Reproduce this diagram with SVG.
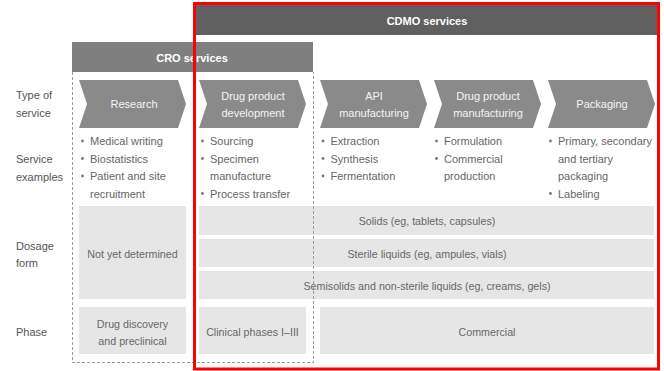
<svg xmlns="http://www.w3.org/2000/svg" width="664" height="371" viewBox="0 0 664 371">
  <style>
    text { font-family: "Liberation Sans", Arial, Helvetica, sans-serif; font-size: 11px; }
    .hdr { fill: #ffffff; font-weight: bold; text-anchor: middle; }
    .chev { fill: #8a8a8a; }
    .chevtxt { fill: #f4f4f4; text-anchor: middle; }
    .rowlbl { fill: #555555; }
    .item { fill: #666666; }
    .dot { fill: #777777; }
    .cell { fill: #e6e6e6; }
    .celltxt { fill: #666666; text-anchor: middle; font-size: 10.7px; }
    .dash { fill: none; stroke: #9a9a9a; stroke-width: 1; stroke-dasharray: 3 2; }
  </style>

  <rect width="664" height="371" fill="#ffffff"/>

  <!-- Section headers -->
  <g id="cdmo-header">
    <rect x="193" y="5" width="464" height="30" fill="#606060"/>
    <text class="hdr" x="427" y="25">CDMO services</text>
  </g>
  <g id="cro-header">
    <rect x="72" y="42" width="241" height="30" fill="#7f7f7f"/>
    <text class="hdr" x="192" y="62">CRO services</text>
  </g>

  <!-- Row labels -->
  <g id="row-labels">
    <text class="rowlbl" x="16" y="99">Type of</text>
    <text class="rowlbl" x="16" y="117">service</text>
    <text class="rowlbl" x="16" y="163">Service</text>
    <text class="rowlbl" x="16" y="181">examples</text>
    <text class="rowlbl" x="16" y="250">Dosage</text>
    <text class="rowlbl" x="16" y="267">form</text>
    <text class="rowlbl" x="16" y="336">Phase</text>
  </g>

  <!-- Service chevrons -->
  <g id="research">
    <polygon class="chev" points="79,80 178,80 186,104 178,128 79,128 87,104"/>
    <text class="chevtxt" x="134" y="108">Research</text>
  </g>
  <g id="drug-product-development">
    <polygon class="chev" points="199,80 298,80 306,104 298,128 199,128 207,104"/>
    <text class="chevtxt" x="253" y="100">Drug product</text>
    <text class="chevtxt" x="253" y="117">development</text>
  </g>
  <g id="api-manufacturing">
    <polygon class="chev" points="320,80 419,80 427,104 419,128 320,128 328,104"/>
    <text class="chevtxt" x="374" y="100">API</text>
    <text class="chevtxt" x="374" y="117">manufacturing</text>
  </g>
  <g id="drug-product-manufacturing">
    <polygon class="chev" points="434,80 533,80 541,104 533,128 434,128 442,104"/>
    <text class="chevtxt" x="488" y="100">Drug product</text>
    <text class="chevtxt" x="488" y="117">manufacturing</text>
  </g>
  <g id="packaging">
    <polygon class="chev" points="548,80 647,80 655,104 647,128 548,128 556,104"/>
    <text class="chevtxt" x="602" y="108">Packaging</text>
  </g>

  <!-- Service examples -->
  <g id="examples-research">
    <circle class="dot" cx="82.5" cy="141" r="1.4"/>
    <circle class="dot" cx="82.5" cy="158.5" r="1.4"/>
    <circle class="dot" cx="82.5" cy="176" r="1.4"/>
    <text class="item" x="90" y="145">Medical writing</text>
    <text class="item" x="90" y="162.5">Biostatistics</text>
    <text class="item" x="90" y="180">Patient and site</text>
    <text class="item" x="90" y="197.5">recruitment</text>
  </g>
  <g id="examples-development">
    <circle class="dot" cx="202.5" cy="141" r="1.4"/>
    <circle class="dot" cx="202.5" cy="158.5" r="1.4"/>
    <circle class="dot" cx="202.5" cy="193.5" r="1.4"/>
    <text class="item" x="210" y="145">Sourcing</text>
    <text class="item" x="210" y="162.5">Specimen</text>
    <text class="item" x="210" y="180">manufacture</text>
    <text class="item" x="210" y="197.5">Process transfer</text>
  </g>
  <g id="examples-api">
    <circle class="dot" cx="323" cy="141" r="1.4"/>
    <circle class="dot" cx="323" cy="158.5" r="1.4"/>
    <circle class="dot" cx="323" cy="176" r="1.4"/>
    <text class="item" x="330.5" y="145">Extraction</text>
    <text class="item" x="330.5" y="162.5">Synthesis</text>
    <text class="item" x="330.5" y="180">Fermentation</text>
  </g>
  <g id="examples-manufacturing">
    <circle class="dot" cx="436.5" cy="141" r="1.4"/>
    <circle class="dot" cx="436.5" cy="158.5" r="1.4"/>
    <text class="item" x="444" y="145">Formulation</text>
    <text class="item" x="444" y="162.5">Commercial</text>
    <text class="item" x="444" y="180">production</text>
  </g>
  <g id="examples-packaging">
    <circle class="dot" cx="550.5" cy="141" r="1.4"/>
    <circle class="dot" cx="550.5" cy="193.5" r="1.4"/>
    <text class="item" x="558" y="145">Primary, secondary</text>
    <text class="item" x="558" y="162.5">and tertiary</text>
    <text class="item" x="558" y="180">packaging</text>
    <text class="item" x="558" y="197.5">Labeling</text>
  </g>

  <!-- Dosage form cells -->
  <g id="dosage-undetermined">
    <rect class="cell" x="79" y="206" width="107" height="93"/>
    <text class="celltxt" x="132.5" y="258">Not yet determined</text>
  </g>
  <g id="dosage-solids">
    <rect class="cell" x="199" y="206" width="455" height="29"/>
    <text class="celltxt" x="427" y="225">Solids (eg, tablets, capsules)</text>
  </g>
  <g id="dosage-sterile">
    <rect class="cell" x="199" y="239" width="455" height="28"/>
    <text class="celltxt" x="427" y="257.5">Sterile liquids (eg, ampules, vials)</text>
  </g>
  <g id="dosage-semisolids">
    <rect class="cell" x="199" y="271" width="455" height="28"/>
    <text class="celltxt" x="427" y="289.5">Semisolids and non-sterile liquids (eg, creams, gels)</text>
  </g>

  <!-- Phase cells -->
  <g id="phase-discovery">
    <rect class="cell" x="79" y="307" width="107" height="47"/>
    <text class="celltxt" x="132.5" y="327.5">Drug discovery</text>
    <text class="celltxt" x="132.5" y="345">and preclinical</text>
  </g>
  <g id="phase-clinical">
    <rect class="cell" x="199" y="307" width="107" height="47"/>
    <text class="celltxt" x="252.5" y="336">Clinical phases I–III</text>
  </g>
  <g id="phase-commercial">
    <rect class="cell" x="320" y="307" width="334" height="47"/>
    <text class="celltxt" x="487" y="336">Commercial</text>
  </g>

  <!-- CRO scope outline (dashed) -->
  <g id="cro-outline">
    <polyline class="dash" points="72.5,72 72.5,362.5 313.5,362.5 313.5,72"/>
  </g>

  <!-- CDMO scope highlight -->
  <g id="cdmo-frame">
    <rect x="194.5" y="3.5" width="464" height="365.5" fill="none" stroke="#ff0000" stroke-width="3"/>
  </g>
</svg>
